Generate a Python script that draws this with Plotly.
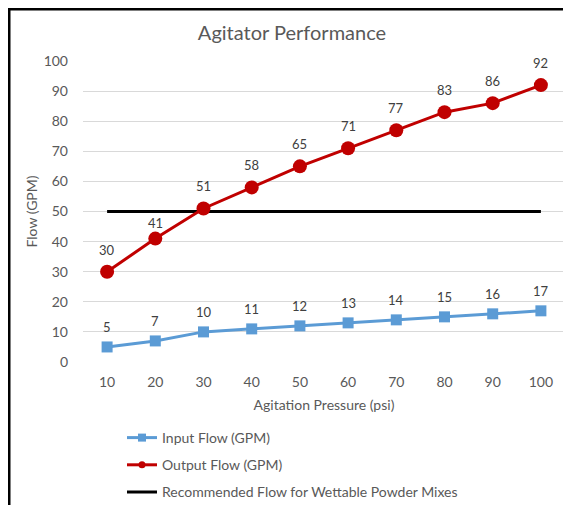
import plotly.graph_objects as go

# datos
presion = [10, 20, 30, 40, 50, 60, 70, 80, 90, 100]
flujo_entrada = [5, 7, 10, 11, 12, 13, 14, 15, 16, 17]
flujo_salida = [30, 41, 51, 58, 65, 71, 77, 83, 86, 92]
flujo_recomendado = [50, 50, 50, 50, 50, 50, 50, 50, 50, 50]
ticks_y = [0, 10, 20, 30, 40, 50, 60, 70, 80, 90, 100]

AZUL = "#5B9BD5"
ROJO = "#C00000"
GRIS = "#595959"
FUENTE = "Lato, Open Sans, sans-serif"

# la pagina tiene 8px de margen en el body: la figura ocupa el resto
OFF = 8
W, H = 571 - OFF, 505 - OFF
L, R, T, B = 83 - OFF, 6, 61 - OFF, 143
pw, ph = W - L - R, H - T - B


def px_x(x):
    # x en pixeles de la pagina -> coordenada paper
    return (x - OFF - L) / pw


def px_y(y):
    return (H - B - (y - OFF)) / ph


fig = go.Figure()

# linea recomendada
fig.add_trace(go.Scatter(
    x=presion, y=flujo_recomendado, mode="lines",
    line=dict(color="black", width=3),
    showlegend=False, hoverinfo="skip"
))

# flujo de entrada
fig.add_trace(go.Scatter(
    x=presion, y=flujo_entrada, mode="lines+markers",
    line=dict(color=AZUL, width=3),
    marker=dict(symbol="square", size=11, color=AZUL),
    showlegend=False
))

# flujo de salida
fig.add_trace(go.Scatter(
    x=presion, y=flujo_salida, mode="lines+markers",
    line=dict(color=ROJO, width=3),
    marker=dict(symbol="circle", size=14, color=ROJO),
    showlegend=False
))

# etiquetas de datos (la del 41 queda un poco mas baja, bajo la linea negra)
for serie, desplazamiento in ((flujo_entrada, 20), (flujo_salida, 22)):
    for x, v in zip(presion, serie):
        dy = 16 if (serie is flujo_salida and x == 20) else desplazamiento
        fig.add_annotation(
            x=x, y=v, text=str(v), showarrow=False,
            yanchor="middle", yshift=dy,
            font=dict(size=13, color="#404040", family=FUENTE)
        )

# entradas de leyenda con marcadores pequenos
leyenda = [
    ("Input Flow (GPM)", AZUL, "square", 8, "lines+markers"),
    ("Output Flow (GPM)", ROJO, "circle", 7, "lines+markers"),
    ("Recommended Flow for Wettable Powder Mixes", "black", "circle", 1, "lines"),
]
for i, (nombre, color, simbolo, tam, modo) in enumerate(leyenda):
    fig.add_trace(go.Scatter(
        x=[None], y=[None], mode=modo, name=nombre,
        line=dict(color=color, width=3),
        marker=dict(symbol=simbolo, size=tam, color=color),
        legendgroup=f"g{i}"
    ))

# marco del recuadro (arriba e izquierda)
fig.add_shape(type="line", xref="paper", yref="paper",
              x0=px_x(7.5), x1=px_x(575), y0=px_y(9), y1=px_y(9),
              line=dict(color="black", width=3))
fig.add_shape(type="line", xref="paper", yref="paper",
              x0=px_x(9), x1=px_x(9), y0=px_y(7.5), y1=px_y(510),
              line=dict(color="black", width=3))

fig.update_layout(
    width=W, height=H,
    margin=dict(l=L, r=R, t=T, b=B, autoexpand=False),
    paper_bgcolor="white", plot_bgcolor="white",
    font=dict(family=FUENTE, size=14, color=GRIS),
    title=dict(text="Agitator Performance", x=(292 - OFF) / W, xanchor="center",
               y=1 - (33 - OFF) / H, yanchor="middle", yref="container",
               font=dict(size=20, color=GRIS, family=FUENTE)),
    xaxis=dict(
        range=[5, 105], tickvals=presion,
        showgrid=False, showline=False, zeroline=False, automargin=False,
        ticks="", ticklabelstandoff=10,
        tickfont=dict(size=14, color=GRIS),
        title=dict(text="Agitation Pressure (psi)", standoff=11,
                   font=dict(size=14, color=GRIS)),
    ),
    yaxis=dict(
        range=[0, 100], tickvals=ticks_y, automargin=False,
        showgrid=True, gridcolor="#D9D9D9", gridwidth=1,
        zeroline=False, showline=False, ticks="", ticklabelstandoff=14,
        tickfont=dict(size=14, color=GRIS),
        title=dict(text="Flow (GPM)", standoff=2,
                   font=dict(size=14, color=GRIS)),
    ),
    legend=dict(
        x=px_x(122), xanchor="left", y=px_y(422), yanchor="top",
        orientation="v", tracegroupgap=6, itemwidth=30,
        bgcolor="rgba(0,0,0,0)", font=dict(size=14, color=GRIS),
    ),
    showlegend=True,
)

fig.write_html("out.html")
